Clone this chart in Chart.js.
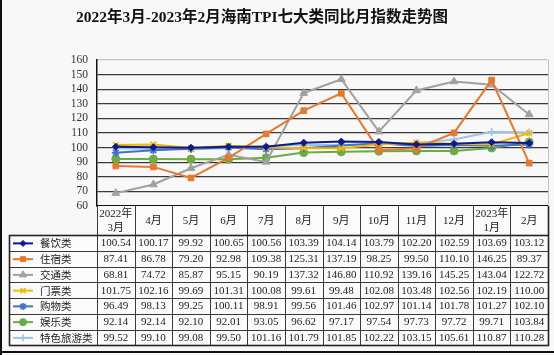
<!DOCTYPE html>
<html><head><meta charset="utf-8">
<script src="https://cdn.jsdelivr.net/npm/chart.js"></script>
<style>html,body{margin:0;padding:0;background:#f8f8f8;}canvas{display:block;}</style>
</head><body>
<canvas id="c" width="554" height="355"></canvas>
<script>
const chartTitle = '2022年3月-2023年2月海南TPI七大类同比月指数走势图';
const categories = [['2022年','3月'],['4月'],['5月'],['6月'],['7月'],['8月'],['9月'],['10月'],['11月'],['12月'],['2023年','1月'],['2月']];
const seriesNames = ['餐饮类','住宿类','交通类','门票类','购物类','娱乐类','特色旅游类'];
const catering      = [100.54,100.17,99.92,100.65,100.56,103.39,104.14,103.79,102.20,102.59,103.69,103.12];
const lodging       = [87.41,86.78,79.20,92.98,109.38,125.31,137.19,98.25,99.50,110.10,146.25,89.37];
const transport     = [68.81,74.72,85.87,95.15,90.19,137.32,146.80,110.92,139.16,145.25,143.04,122.72];
const tickets       = [101.75,102.16,99.69,101.31,100.08,99.61,99.48,102.08,103.48,102.56,102.19,110.00];
const shopping      = [96.49,98.13,99.25,100.11,98.91,99.56,101.46,102.97,101.14,101.78,101.27,102.10];
const entertainment = [92.14,92.14,92.10,92.01,93.05,96.62,97.17,97.54,97.73,97.72,99.71,103.84];
const specialTour   = [99.52,99.10,99.08,99.50,101.16,101.79,101.85,102.22,103.15,105.61,110.87,110.28];
const yMin = 60, yMax = 160, yStep = 10;

const allSeries = [catering, lodging, transport, tickets, shopping, entertainment, specialTour];
const colors = ['#0d1a8a','#e8782c','#a0a0a0','#f0b800','#4472c4','#6aab45','#9dc3e6'];
const pStyles = ['rectRot','rect','triangle','crossRot','star','circle','cross'];
const pRadius = [3.5,4,4.5,4,4,4,4];

const serif = "'Liberation Serif','Noto Sans CJK SC',serif";
const cjk = "'Noto Sans CJK SC','Liberation Serif',sans-serif";

const datasets = seriesNames.map((n,i)=>({
  label:n, data:allSeries[i], borderColor:colors[i], backgroundColor:colors[i],
  pointBackgroundColor:colors[i], pointBorderColor:colors[i],
  pointStyle:pStyles[i], pointRadius:pRadius[i], pointBorderWidth:(pStyles[i].startsWith('cross')||pStyles[i]==='star')?1.6:1,
  borderWidth:2, tension:0, order:i
}));

function drawMarker(ctx, style, r, bw, x, y){
  if (Chart.helpers && Chart.helpers.drawPoint){
    Chart.helpers.drawPoint(ctx,{pointStyle:style,radius:r,borderWidth:bw,rotation:0},x,y);
  } else {
    ctx.beginPath();ctx.arc(x,y,r,0,Math.PI*2);ctx.fill();
  }
}

const tablePlugin = {
  id:'tbl',
  beforeDraw(chart){
    const ctx=chart.ctx;
    ctx.save();ctx.fillStyle='#f8f8f8';ctx.fillRect(0,0,chart.width,chart.height);
    ctx.fillStyle='#111';ctx.textAlign='center';ctx.textBaseline='middle';
    ctx.font='bold 15.5px '+serif;
    ctx.fillText(chartTitle,262,18);
    ctx.restore();
  },
  beforeDatasetsDraw(chart){
    const ctx=chart.ctx, a=chart.chartArea;
    ctx.save();ctx.strokeStyle='#c4c4c4';ctx.lineWidth=1;
    ctx.beginPath();ctx.moveTo(Math.round(a.right)+0.5,a.top);ctx.lineTo(Math.round(a.right)+0.5,a.bottom);ctx.stroke();
    ctx.restore();
  },
  afterDraw(chart){
    const ctx=chart.ctx, a=chart.chartArea;
    const L=Math.round(a.left), R=Math.round(a.right);
    const colW=(R-L)/categories.length;
    const headTop=Math.round(a.bottom), headBot=headTop+29, rowH=15.75;
    const tblBot=Math.round(headBot+rowH*seriesNames.length);
    const legL=9;
    ctx.save();
    ctx.fillStyle='#fbfbfb';
    ctx.fillRect(L,headTop,R-L,tblBot-headTop);
    ctx.fillRect(legL,headBot,L-legL,tblBot-headBot);
    ctx.strokeStyle='#3a3a3a';ctx.lineWidth=1;
    ctx.beginPath();
    for(let i=0;i<=categories.length;i++){
      const x=Math.round(L+i*colW)+0.5;
      ctx.moveTo(x,headTop);ctx.lineTo(x,tblBot);
    }
    ctx.moveTo(legL+0.5,headBot);ctx.lineTo(legL+0.5,tblBot);
    for(let r=0;r<=seriesNames.length;r++){
      const y=Math.round(headBot+r*rowH)+0.5;
      ctx.moveTo(legL,y);ctx.lineTo(R+1,y);
    }
    ctx.stroke();
    ctx.lineWidth=1.6;ctx.strokeStyle='#222';
    ctx.strokeRect(legL+0.5,headBot+0.5,R-legL,tblBot-headBot);
    ctx.beginPath();ctx.moveTo(R+0.5,headTop);ctx.lineTo(R+0.5,headBot);ctx.stroke();
    ctx.fillStyle='#222';ctx.textAlign='center';ctx.textBaseline='middle';
    ctx.font='11px '+serif;
    categories.forEach((c,i)=>{
      const cx=L+(i+0.5)*colW;
      const my=(headTop+headBot)/2+1;
      if(c.length===1){ctx.fillText(c[0],cx,my);}
      else{ctx.fillText(c[0],cx,my-7);ctx.fillText(c[1],cx,my+7);}
    });
    allSeries.forEach((s,r)=>{
      const cy=headBot+(r+0.5)*rowH+0.5;
      s.forEach((v,i)=>{
        ctx.fillText(v.toFixed(2),L+(i+0.5)*colW,cy);
      });
    });
    seriesNames.forEach((n,r)=>{
      const cy=headBot+(r+0.5)*rowH+0.5;
      ctx.strokeStyle=colors[r];ctx.fillStyle=colors[r];ctx.lineWidth=2;
      ctx.beginPath();ctx.moveTo(13,cy);ctx.lineTo(33,cy);ctx.stroke();
      ctx.lineWidth=(pStyles[r].startsWith('cross')||pStyles[r]==='star')?1.6:1;
      drawMarker(ctx,pStyles[r],pRadius[r]-0.5,ctx.lineWidth,23,cy);
      ctx.fillStyle='#222';ctx.textAlign='left';ctx.font='10.5px '+cjk;
      ctx.fillText(n,40,cy);
      ctx.textAlign='center';ctx.font='11px '+serif;
    });
    ctx.fillStyle='#111';
    ctx.fillRect(0,0,2,chart.height);
    ctx.fillRect(0,351,chart.width,2);
    ctx.restore();
  }
};

new Chart(document.getElementById('c'),{
  type:'line',
  data:{labels:categories.map(c=>c.join('')),datasets},
  options:{
    responsive:false, animation:false, devicePixelRatio:1,
    layout:{padding:{left:0,right:6,top:60,bottom:149}},
    plugins:{
      legend:{display:false}, tooltip:{enabled:false}, title:{display:false}
    },
    scales:{
      x:{offset:true,grid:{display:false},ticks:{display:false},
         border:{display:true,color:'#111',width:1.5},
         afterFit(s){s.height=0;}},
      y:{min:yMin,max:yMax,
         ticks:{stepSize:yStep,autoSkip:false,color:'#333',font:{family:serif,size:11.5},padding:9},
         grid:{drawTicks:false,color:c=>c.tick&&c.tick.value===yMax?'#c4c4c4':'#3a3a3a',lineWidth:1.3},
         border:{display:true,color:'#111',width:1.5},
         afterFit(s){s.width=97;}}
    }
  },
  plugins:[tablePlugin]
});
</script>
</body></html>
